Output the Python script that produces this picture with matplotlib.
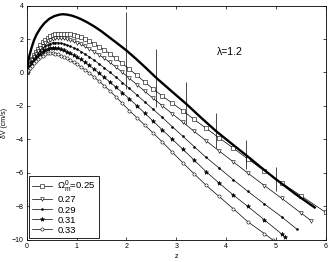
import matplotlib
matplotlib.use("Agg")
import matplotlib.pyplot as plt

plt.rcParams['font.family'] = ['Liberation Sans', 'DejaVu Sans']
plt.rcParams['mathtext.fontset'] = 'custom'
plt.rcParams['mathtext.rm'] = 'Liberation Sans'
plt.rcParams['mathtext.it'] = 'Liberation Sans:italic'

# shared redshift grid for the model curves
z_grid = [0, 0.03, 0.06, 0.1, 0.14, 0.18, 0.22, 0.27, 0.32, 0.37, 0.42, 0.47, 0.52,
          0.57, 0.62, 0.68, 0.74, 0.8, 0.87, 0.94, 1.01, 1.09, 1.17, 1.26, 1.35,
          1.45, 1.56, 1.67, 1.79, 1.92, 2.06, 2.21, 2.37, 2.54, 2.72, 2.92, 3.13,
          3.36, 3.6, 3.86, 4.14, 4.44, 4.77, 5.12, 5.5, 6.0]

dv_025 = [0, 0.28, 0.53, 0.8, 1.03, 1.25, 1.43, 1.63, 1.81, 1.96, 2.07, 2.16, 2.23,
          2.27, 2.30, 2.32, 2.32, 2.30, 2.27, 2.22, 2.17, 2.09, 2.0, 1.87, 1.72,
          1.55, 1.34, 1.11, 0.85, 0.54, 0.2, -0.17, -0.57, -0.99, -1.4, -1.83, -2.28,
          -2.8, -3.33, -3.9, -4.5, -5.17, -5.87, -6.6, -7.35, -8.35]
dv_027 = [0, 0.25, 0.47, 0.72, 0.92, 1.11, 1.27, 1.45, 1.61, 1.74, 1.86, 1.95, 2.01,
          2.04, 2.05, 2.05, 2.03, 1.99, 1.93, 1.86, 1.79, 1.69, 1.56, 1.41, 1.25,
          1.06, 0.84, 0.6, 0.33, 0.01, -0.35, -0.72, -1.12, -1.55, -1.98, -2.46, -2.96,
          -3.51, -4.08, -4.68, -5.32, -6.01, -6.75, -7.52, -8.38, -8.85]
dv_029 = [0, 0.21, 0.4, 0.6, 0.78, 0.96, 1.11, 1.28, 1.43, 1.56, 1.66, 1.73, 1.77,
          1.78, 1.78, 1.76, 1.71, 1.65, 1.57, 1.48, 1.38, 1.25, 1.1, 0.93, 0.74,
          0.52, 0.27, 0.01, -0.27, -0.6, -0.95, -1.34, -1.76, -2.2, -2.68, -3.23, -3.8,
          -4.42, -5.07, -5.7, -6.39, -7.1, -7.85, -8.63, -9.35]
dv_031 = [0, 0.17, 0.33, 0.5, 0.66, 0.82, 0.95, 1.1, 1.24, 1.35, 1.43, 1.47, 1.48,
          1.47, 1.44, 1.39, 1.33, 1.25, 1.15, 1.05, 0.93, 0.78, 0.61, 0.42, 0.21,
          -0.03, -0.29, -0.57, -0.87, -1.2, -1.57, -1.98, -2.43, -2.91, -3.42, -3.98,
          -4.57, -5.23, -5.92, -6.6, -7.3, -8.0, -8.8, -9.65, -9.8]
dv_033 = [0, 0.13, 0.26, 0.4, 0.54, 0.68, 0.8, 0.92, 1.01, 1.09, 1.15, 1.17, 1.16,
          1.13, 1.08, 1.01, 0.93, 0.85, 0.74, 0.61, 0.48, 0.33, 0.16, -0.04, -0.26,
          -0.51, -0.8, -1.1, -1.45, -1.85, -2.27, -2.7, -3.14, -3.62, -4.14, -4.75,
          -5.38, -6.05, -6.73, -7.4, -8.12, -8.92, -9.62, -10.0]
# last redshift of each curve (where it is not on the shared grid)
z_end = [6.0, 5.71, 5.42, 5.18, 4.94]

omega_labels = [r'$\Omega^0_\mathrm{m}$=0.25', '0.27', '0.29', '0.31', '0.33']
markers = ['s', 'v', '.', '*', 'o']

# thick reference curve
z_thick = [0, 0.02, 0.05, 0.1, 0.15, 0.2, 0.27, 0.35, 0.45, 0.55, 0.65, 0.72, 0.8,
           0.9, 1.0, 1.1, 1.2, 1.35, 1.5, 1.65, 1.8, 2.0, 2.2, 2.4, 2.6, 2.9, 3.2,
           3.5, 3.8, 4.1, 4.4, 4.7, 5.0, 5.4, 5.8]
dv_thick = [0, 0.45, 0.95, 1.5, 1.95, 2.28, 2.62, 2.93, 3.2, 3.36, 3.45, 3.48, 3.46,
            3.4, 3.3, 3.17, 3.02, 2.76, 2.46, 2.12, 1.78, 1.32, 0.8, 0.25, -0.32,
            -1.1, -1.87, -2.7, -3.5, -4.22, -4.93, -5.66, -6.37, -7.27, -8.1]

# error bars
z_err = [2.0, 2.6, 3.2, 3.8, 4.4, 5.0]
dv_err = [1.3, -0.33, -1.83, -3.48, -4.9, -6.37]
err = [2.31, 1.74, 1.24, 1.05, 0.85, 0.72]

series = [dv_025, dv_027, dv_029, dv_031, dv_033]

fig = plt.figure(figsize=(3.32, 2.62), dpi=100)
ax = fig.add_axes([0.0804, 0.084, 0.9006, 0.895])

sizes = {'s': 2.3, 'v': 2.6, '.': 2.8, '*': 3.2, 'o': 2.3}
for vals, zend, lab, mk in zip(series, z_end, omega_labels, markers):
    n = len(vals)
    zs = [z for z in z_grid if z < zend - 1e-9][:n - 1] + [zend]
    ax.plot(zs, vals, color='black', lw=0.5, marker=mk, ms=sizes[mk],
            mfc='white' if mk in ('s', 'v', 'o') else 'black',
            mec='black', mew=0.4, label=lab, clip_on=True)

ax.plot(z_thick, dv_thick, color='black', lw=1.7, solid_capstyle='butt')
ax.errorbar(z_err, dv_err, yerr=err, fmt='none', ecolor='black',
            elinewidth=0.5, capsize=0)

ax.text(4.08, 1.2, 'λ=1.2', fontsize=7.5, ha='center', va='center')

ax.set_xlim(0, 6)
ax.set_ylim(-10, 4)
ax.set_xticks(range(0, 7))
ax.set_yticks(range(-10, 5, 2))
ax.tick_params(direction='in', length=2.5, width=0.5, labelsize=5,
               top=True, right=True, pad=2)
for s in ax.spines.values():
    s.set_linewidth(0.6)

ax.set_xlabel('z', fontsize=5, labelpad=2)
ax.set_ylabel('δV (cm/s)', fontsize=5, labelpad=3)

leg = ax.legend(loc='lower left', fontsize=6.8, handlelength=2.1,
                handletextpad=0.6, labelspacing=0.12, borderpad=0.3,
                borderaxespad=0.25, fancybox=False, framealpha=1,
                edgecolor='black')
leg.get_frame().set_linewidth(0.6)

fig.savefig('out.png', dpi=100)
